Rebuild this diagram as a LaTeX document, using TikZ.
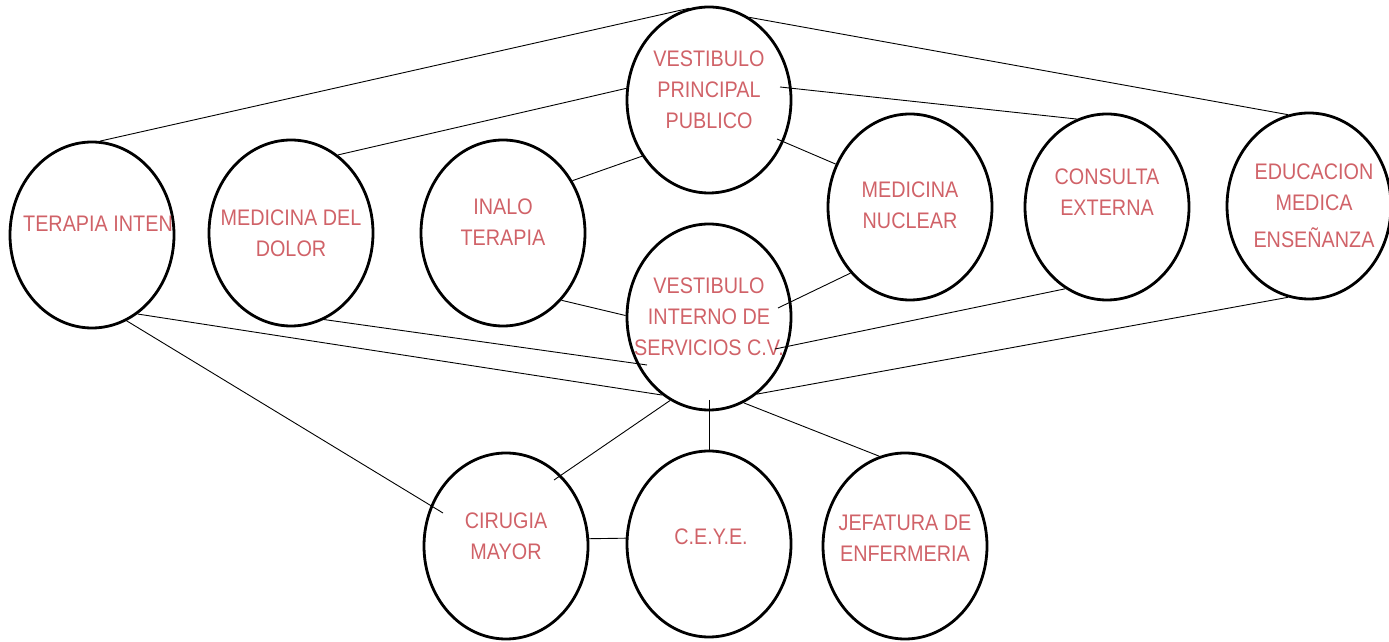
\documentclass[tikz,border=0pt]{standalone}
\usepackage{fontspec}
\setmainfont[FakeStretch=0.88]{Liberation Sans}
\usepackage{tikz}
\usetikzlibrary{calc, shapes.geometric}
\definecolor{roomtext}{RGB}{208,98,104}

\begin{document}
\begin{tikzpicture}[x=1pt, y=1pt,
        room/.style = {shape=ellipse, draw, line width=2.8pt,
            minimum width=164pt, minimum height=186pt, inner sep=0pt},
        lbl/.style = {align=center, text=roomtext, inner sep=0pt,
            font=\fontsize{22.5}{31}\selectfont},
        link/.style = {line width=0.9pt}]
    \useasboundingbox (0,0) rectangle (1389,642);

    % rooms
    \node [room] (vp)   at (709,542) {};
    \node [room] (vi)   at (709,325) {};
    \node [room] (tin)  at (92,407)  {};
    \node [room] (dol)  at (291,409) {};
    \node [room] (ina)  at (503,409) {};
    \node [room] (nuc)  at (910,435) {};
    \node [room] (con)  at (1107,435) {};
    \node [room] (edu)  at (1309,436) {};
    \node [room] (cir)  at (506,96)  {};
    \node [room] (ceye) at (709,98)  {};
    \node [room] (jef)  at (905,96)  {};

    % names
    \node [lbl] at ([yshift=10]vp.center) {VESTIBULO\\PRINCIPAL\\PUBLICO};
    \node [lbl] at (vi.center) {VESTIBULO\\INTERNO DE\\SERVICIOS C.V.};
    \node [lbl] at ([xshift=6, yshift=11]tin.center) {TERAPIA INTEN};
    \node [lbl] at (dol.center) {MEDICINA DEL\\DOLOR};
    \node [lbl] at ([yshift=11]ina.center) {INALO\\TERAPIA};
    \node [lbl] at ([yshift=2]nuc.center) {MEDICINA\\NUCLEAR};
    \node [lbl] at ([yshift=15]con.center) {CONSULTA\\EXTERNA};
    \node [lbl] at ([xshift=5]edu.center) {EDUCACION\\MEDICA\\[6pt]ENSEÑANZA};
    \node [lbl] at ([yshift=10]cir.center) {CIRUGIA\\MAYOR};
    \node [lbl] at ([xshift=2, yshift=7]ceye.center) {C.E.Y.E.};
    \node [lbl] at ([yshift=8]jef.center) {JEFATURA DE\\ENFERMERIA};

    % links to the main hall
    \draw [link] (tin.85) -- (vp.102);
    \draw [link] (vp.64) -- (edu.103);
    \draw [link] (dol.59) -- (vp.172);
    \draw [link] (ina.37) -- (vp.220);
    \draw [link] ($(vp)+(71,13)$) -- (con.109);
    \draw [link] ($(vp)+(68,-39)$) -- (nuc.150);

    % links to the service hall
    \draw [link] (tin.-60) -- (vi.239);
    \draw [link] (dol.-69) -- ($(vi)+(-62,-48)$);
    \draw [link] (ina.-49) -- (vi.179);
    \draw [link] (nuc.228) -- ($(vi)+(69,9)$);
    \draw [link] (con.243) -- ($(vi)+(66,-32)$);
    \draw [link] (edu.257) -- (vi.-58);
    \draw [link] (vi.245) -- ($(cir)+(48,66)$);
    \draw [link] ($(vi)+(0,-83)$) -- (ceye.north);
    \draw [link] (vi.292) -- (jef.106);

    % surgery block
    \draw [link] (tin.-68) -- ($(cir)+(-63,33)$);
    \draw [link] (cir.5) -- (ceye.176);
\end{tikzpicture}
\end{document}
